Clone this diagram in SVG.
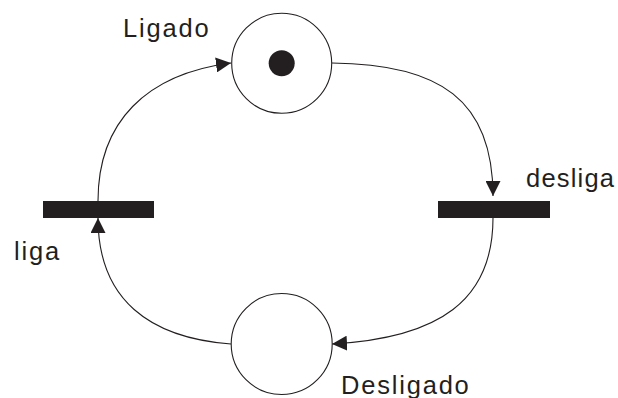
<svg xmlns="http://www.w3.org/2000/svg" width="618" height="398" viewBox="0 0 618 398">
  <style>
    .place { fill: #ffffff; stroke: #231f20; stroke-width: 1.1; }
    .token { fill: #231f20; }
    .bar { fill: #231f20; }
    .arc { fill: none; stroke: #231f20; stroke-width: 1.1; marker-end: url(#head); }
    .label { font-family: "Liberation Sans", Arial, sans-serif; font-size: 25.5px; letter-spacing: 1.8px; fill: #231f20; }
    .tight { letter-spacing: 1.2px; }
  </style>
  <defs>
    <marker id="head" markerUnits="userSpaceOnUse" markerWidth="16" markerHeight="15" refX="15" refY="7.5" orient="auto">
      <path d="M0,0 L15,7.5 L0,15 z" fill="#231f20"/>
    </marker>
  </defs>
  <rect width="618" height="398" fill="#ffffff"/>

  <g id="connectors">
    <path class="arc" d="M98,201 C98,122 146,74 231,63"/>
    <path class="arc" d="M332,63 C440,64 493,100 493,196"/>
    <path class="arc" d="M493,218 C493,300 440,338 332,344"/>
    <path class="arc" d="M231,344 C150,338 98,300 98,218"/>
  </g>

  <g id="ligado">
    <circle class="place" cx="281.7" cy="63.3" r="50"/>
    <circle class="token" cx="281.7" cy="63.3" r="13"/>
    <text class="label" x="123" y="37">Ligado</text>
  </g>

  <g id="desligado">
    <circle class="place" cx="281.7" cy="344" r="50.5"/>
    <text class="label" x="341" y="394">Desligado</text>
  </g>

  <g id="liga">
    <rect class="bar" x="43" y="201" width="111" height="17"/>
    <text class="label" x="14" y="260">liga</text>
  </g>

  <g id="desliga">
    <rect class="bar" x="438" y="201" width="112" height="17"/>
    <text class="label tight" x="526" y="187">desliga</text>
  </g>
</svg>
